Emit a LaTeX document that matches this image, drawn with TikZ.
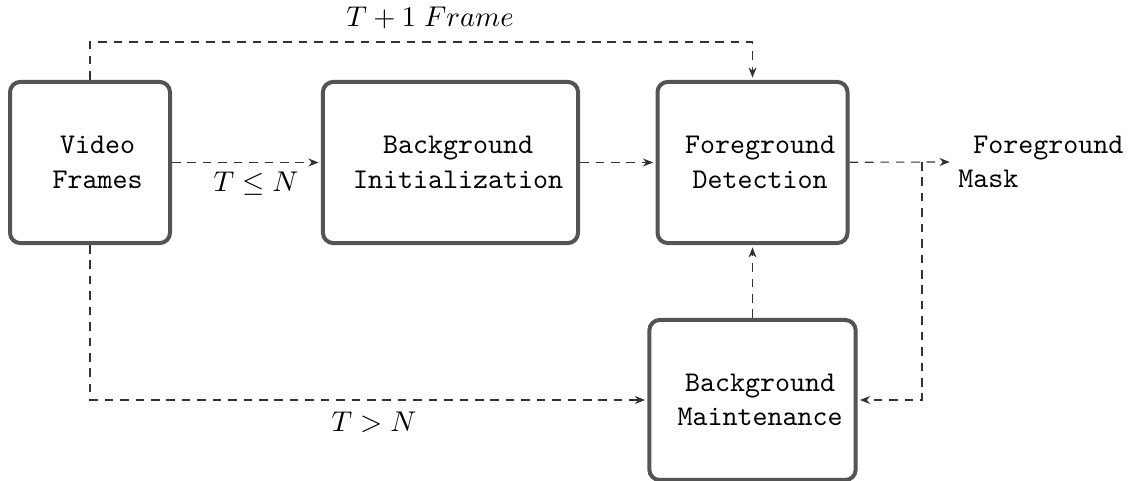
\documentclass[tikz,border=0pt]{standalone}
\usetikzlibrary{arrows.meta}
\begin{document}
\begin{tikzpicture}[x=0.35pt,y=-0.35pt,
  stage/.style={draw=black!67, line width=1.4pt, rounded corners=3.6pt,
    fill=white, align=center, font=\ttfamily, inner sep=0pt},
  flow/.style={draw=black!80, line width=0.4pt, dash pattern=on 3pt off 2.4pt,
    -{Stealth[length=3.6pt,width=2.8pt]}, shorten >=0.8pt},
  cond/.style={inner sep=0pt}
]
\useasboundingbox (0,0) rectangle (1135,481);

% processing stages
\node[stage, minimum width=56pt, minimum height=56.4pt] (vf) at (90,162.5)
  {\hspace*{0.525em}Video\\\hspace*{0.525em}Frames};
\node[stage, minimum width=89.3pt, minimum height=56.4pt] (bi) at (450.5,162.5)
  {\hspace*{0.525em}Background\\\hspace*{0.525em}Initialization};
\node[stage, minimum width=66.5pt, minimum height=56.4pt] (fd) at (752.5,162.5)
  {\hspace*{0.525em}Foreground\\\hspace*{0.525em}Detection};
\node[stage, minimum width=72.2pt, minimum height=56pt] (bm) at (752.5,400)
  {\hspace*{0.525em}Background\\\hspace*{0.525em}Maintenance};

% output
\node[font=\ttfamily, align=left, anchor=west, inner sep=2pt] (fm) at (952,162)
  {\hspace*{0.525em}Foreground\\Mask};

% corner and branch points
\coordinate (top) at (90,42);
\coordinate (topr) at (752.5,42);
\coordinate (bot) at (90,400);
\coordinate (br) at (922,162);
\coordinate (brd) at (922,400);

% connectors
\draw[flow] (vf) -- (bi);
\draw[flow] (bi) -- (fd);
\draw[flow] (fd) -- (fm.west);
\draw[flow] (br) -- (brd) -- (bm);
\draw[flow] (bm) -- (fd);
\draw[flow] (vf.north) -- (top) -- (topr) -- (fd.north);
\draw[flow] (vf.south) -- (bot) -- (bm.west);

% conditions
\node[cond] (c1) at (430,18) {$T+1\;Frame$};
\node[cond] (c2) at (256,184) {$T\leq N$};
\node[cond] (c3) at (374,422) {$T>N$};
\end{tikzpicture}
\end{document}
